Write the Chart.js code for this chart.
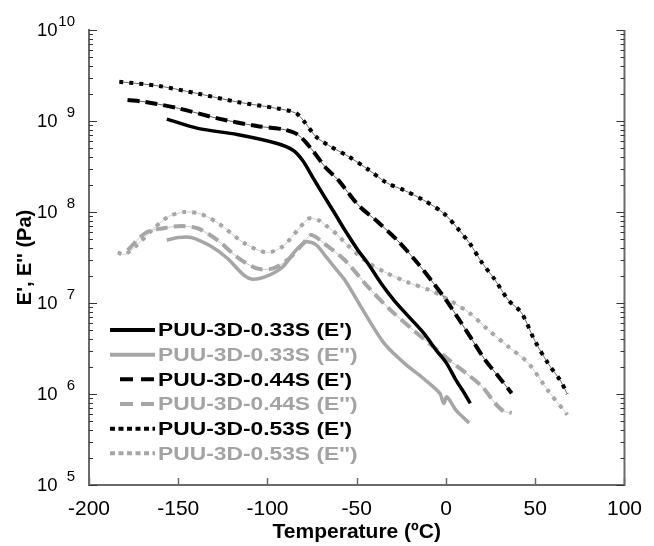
<!DOCTYPE html>
<html><head><meta charset="utf-8">
<script src="https://cdn.jsdelivr.net/npm/chart.js@4.4.1/dist/chart.umd.min.js"></script>
<style>html,body{margin:0;padding:0;background:#fff}#wrap{width:654px;height:546px}</style>
</head><body><div id="wrap"><canvas id="c" width="654" height="546"></canvas></div>
<script>
// ---------- data ----------
const labels = ["PUU-3D-0.33S (E')", "PUU-3D-0.33S (E'')", "PUU-3D-0.44S (E')", "PUU-3D-0.44S (E'')", "PUU-3D-0.53S (E')", "PUU-3D-0.53S (E'')"];

const t033E1 = [-156.4,-139,-117,-95.1,-85.9,-80.4,-74.9,-69.4,-62.1,-56.6,-49.3,-43.8,-36.4,-29.1,-21.8,-12.6,-5.3,0.2,5.7,10.3,13.6];
const v033E1 = [1.05e9,8.3e8,7.1e8,5.7e8,4.8e8,3.7e8,2.45e8,1.62e8,9.5e7,6.3e7,3.8e7,2.73e7,1.65e7,1.07e7,7.4e6,4.7e6,3.0e6,2.2e6,1.41e6,1.02e6,7.9e5];

const t033E2 = [-156.4,-150,-142.7,-131.7,-122.5,-113.4,-107.9,-98.7,-91.4,-84.1,-78.6,-73.1,-67.6,-62,-56.6,-45.6,-34.6,-23.6,-12.6,-3.5,-1.3,0.5,5.7,13.0];
const v033E2 = [4.9e7,5.25e7,5.25e7,4.2e7,3.1e7,2.04e7,1.82e7,2.04e7,2.5e7,3.8e7,4.7e7,4.4e7,3.3e7,2.4e7,1.78e7,7.8e6,3.6e6,2.2e6,1.48e6,1.02e6,7.9e5,9.3e5,6.6e5,4.8e5];

const t044E1 = [-178.4,-168.3,-150,-128,-106,-91.4,-83.1,-74.9,-67.6,-60.3,-49.3,-38.3,-27.3,-16.3,-7.1,0.2,7.5,14.8,22.1,29.5,36.8];
const v044E1 = [1.7e9,1.62e9,1.38e9,1.07e9,8.8e8,8.1e8,7.1e8,4.8e8,3.1e8,2.24e8,1.2e8,7.8e7,4.9e7,2.8e7,1.66e7,1.07e7,6.5e6,3.9e6,2.34e6,1.55e6,1.02e6];

const t044E2 = [-178.4,-168.3,-159.2,-148.2,-139,-128,-117,-106,-96.9,-87.7,-80,-75.5,-67.6,-56.6,-43.8,-30.9,-18.1,-7.1,2.0,11.2,20.3,27.6,32.2,36.8];
const v044E2 = [3.8e7,5.9e7,6.6e7,7.0e7,6.6e7,4.9e7,3.2e7,2.4e7,2.4e7,3.1e7,4.5e7,5.6e7,4.4e7,2.95e7,1.51e7,8.3e6,5.0e6,3.3e6,2.34e6,1.7e6,1.2e6,7.9e5,6.5e5,6.2e5];

const t053E1 = [-183,-161,-139,-117,-95.1,-84.1,-78.6,-73.1,-65.8,-54.8,-43.8,-32.8,-23.6,-12.6,-1.6,5.7,13.0,20.3,27.6,35,42.3,49.6,57,64.3,68];
const v053E1 = [2.7e9,2.43e9,2.0e9,1.62e9,1.38e9,1.22e9,9.4e8,6.8e8,5.4e8,4.1e8,2.95e8,2.07e8,1.74e8,1.35e8,9.8e7,6.9e7,4.6e7,2.75e7,1.78e7,1.07e7,7.8e6,3.9e6,2.2e6,1.38e6,1.0e6];

const t053E2 = [-183.9,-180.2,-173.8,-164.7,-155.5,-146.3,-137.2,-126.2,-113.4,-100.5,-91.4,-82.3,-76.8,-71.3,-67.6,-60.3,-56.6,-45.6,-34.6,-21.8,-8.9,2.0,13,24,35,46,57,68];
const v053E2 = [3.6e7,3.4e7,4.2e7,6.3e7,8.9e7,1.0e8,9.5e7,7.2e7,4.6e7,3.6e7,4.2e7,6.6e7,8.5e7,8.1e7,7.2e7,5.5e7,4.6e7,2.95e7,2.2e7,1.7e7,1.38e7,1.07e7,7.8e6,5.0e6,3.3e6,2.2e6,1.1e6,5.9e5];

const xTickValues = [-200,-150,-100,-50,0,50,100];
const yTickExponents = [5,6,7,8,9,10];
const xTitle = "Temperature (ºC)";
const yTitle = "E', E'' (Pa)";

// ---------- styling ----------
const FONT = "'Liberation Sans', Arial, Helvetica, sans-serif";
const BLACK = '#000000', GRAY = '#a6a6a6', AXIS = '#6a6a6a';
const styles = [
  {color: BLACK, width: 3.5, dash: [], legendDash: []},
  {color: GRAY,  width: 3.5, dash: [], legendDash: []},
  {color: BLACK, width: 4,   dash: [12,6], legendDash: [13,8], thin: '#333'},
  {color: GRAY,  width: 4,   dash: [12,6], legendDash: [13,8], thin: '#bbb'},
  {color: BLACK, width: 4,   dash: [4,6],  legendDash: [5,3.5], thin: '#444'},
  {color: GRAY,  width: 4,   dash: [4,6],  legendDash: [5,3.5], thin: '#c4c4c4'}
];
const temps = [t033E1, t033E2, t044E1, t044E2, t053E1, t053E2];
const vals  = [v033E1, v033E2, v044E1, v044E2, v053E1, v053E2];
const pts = (t, v) => t.map((x, i) => ({x: x, y: v[i]}));

const datasets = [];
labels.forEach((lab, i) => {
  const s = styles[i];
  datasets.push({label: lab, data: pts(temps[i], vals[i]), showLine: true, borderColor: s.color,
    borderWidth: s.width, borderDash: s.dash, pointRadius: 0, tension: 0.3, fill: false, order: 1});
});
labels.forEach((lab, i) => {
  const s = styles[i];
  if (!s.thin) return;
  datasets.push({label: '_thin_' + i, data: pts(temps[i], vals[i]), showLine: true, borderColor: s.thin,
    borderWidth: 0.8, pointRadius: 0, tension: 0.3, fill: false, order: 2});
});

const decor = {
  id: 'decor',
  afterDraw(chart) {
    const {ctx, chartArea: a, scales: {x, y}} = chart;
    ctx.save();
    // right axis line
    ctx.strokeStyle = AXIS; ctx.lineWidth = 2;
    ctx.beginPath(); ctx.moveTo(a.right, a.top); ctx.lineTo(a.right, a.bottom + 1); ctx.stroke();
    // y tick marks (inward, both sides)
    ctx.lineWidth = 1.2; ctx.strokeStyle = '#333';
    yTickExponents.forEach(e => {
      for (let m = 1; m <= 9; m++) {
        if (e === 10 && m > 1) break;
        const py = Math.round(y.getPixelForValue(m * Math.pow(10, e))) + 0.5;
        const len = m === 1 ? 8 : 4;
        ctx.beginPath();
        ctx.moveTo(a.left, py); ctx.lineTo(a.left + len, py);
        ctx.moveTo(a.right, py); ctx.lineTo(a.right - len, py);
        ctx.stroke();
      }
    });
    // x tick marks (upward)
    ctx.strokeStyle = AXIS; ctx.lineWidth = 1.5;
    xTickValues.forEach(v => {
      const px = Math.round(x.getPixelForValue(v)) + 0.5;
      ctx.beginPath(); ctx.moveTo(px, a.bottom); ctx.lineTo(px, a.bottom - 7); ctx.stroke();
    });
    // y tick labels: 10 with superscript exponent
    ctx.fillStyle = '#000'; ctx.textAlign = 'right'; ctx.textBaseline = 'middle';
    yTickExponents.forEach(e => {
      const py = y.getPixelForValue(Math.pow(10, e));
      ctx.font = '18.5px ' + FONT;
      ctx.fillText('10', a.left - 31.5, py + 0.5);
      ctx.font = '15px ' + FONT;
      ctx.fillText(String(e), a.left - 14, py - 8.5);
    });
    // legend inside plot
    const x0 = a.left + 21, x1 = a.left + 66, tx = a.left + 69;
    labels.forEach((lab, i) => {
      const s = styles[i];
      const py = a.top + 300 + i * 24.66;
      ctx.strokeStyle = s.color; ctx.lineWidth = 4; ctx.setLineDash(s.legendDash);
      ctx.beginPath(); ctx.moveTo(x0 + (s.legendDash.length && s.legendDash[0] > 10 ? 10 : 0), py); ctx.lineTo(x1, py); ctx.stroke();
      ctx.setLineDash([]);
      ctx.save();
      ctx.translate(tx, py + 1);
      ctx.scale(1.2, 1);
      ctx.font = 'bold 19px ' + FONT;
      ctx.textAlign = 'left'; ctx.textBaseline = 'middle';
      ctx.fillStyle = s.color === BLACK ? '#000' : '#a3a3a3';
      ctx.fillText(lab, 0, 0);
      ctx.restore();
    });
    ctx.restore();
  }
};

new Chart(document.getElementById('c'), {
  type: 'scatter',
  data: {datasets: datasets},
  options: {
    responsive: false, animation: false, devicePixelRatio: 1,
    layout: {padding: {top: 30, right: 19, bottom: 0, left: 0}},
    plugins: {legend: {display: false}, tooltip: {enabled: false}},
    scales: {
      x: {
        type: 'linear', min: -200, max: 100,
        afterBuildTicks: s => { s.ticks = xTickValues.map(v => ({value: v})); },
        afterFit: s => { s.height = 61; },
        grid: {display: false, drawTicks: false},
        border: {display: true, color: AXIS, width: 2},
        ticks: {color: '#000', font: {family: FONT, size: 21}, padding: 12, maxRotation: 0, autoSkip: false},
        title: {display: true, text: xTitle, color: '#000', font: {family: FONT, size: 21, weight: 'bold'}, padding: {top: 0, bottom: 1}}
      },
      y: {
        type: 'logarithmic', min: 1e5, max: 1e10,
        afterFit: s => { s.width = 89; },
        grid: {display: false, drawTicks: false},
        border: {display: true, color: AXIS, width: 2},
        ticks: {display: false},
        title: {display: true, text: yTitle, color: '#000', font: {family: FONT, size: 20, weight: 'bold'}, padding: {top: 13, bottom: 0}}
      }
    }
  },
  plugins: [decor]
});
</script>
</body></html>
